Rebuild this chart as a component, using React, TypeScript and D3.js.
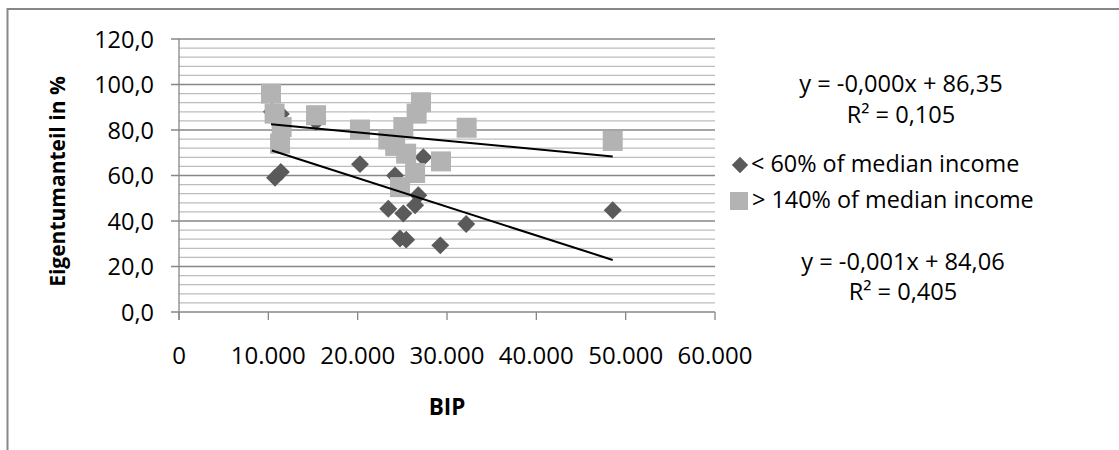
import React from 'react';
import * as d3 from 'd3';

const xTicks = [0, 10000, 20000, 30000, 40000, 50000, 60000];
const yTicks = [0, 20, 40, 60, 80, 100, 120];

const lowLabel = '< 60% of median income';
const highLabel = '> 140% of median income';

const lowX = [10400, 11400, 10750, 11400, 15340, 20260, 24180, 27350, 26790, 23430, 25110, 26430, 32150, 24740, 25430, 29250, 48550];
const lowY = [88, 87, 59, 61.5, 83.6, 65, 60, 68, 51.3, 45.4, 43.3, 46.9, 38.7, 32.3, 31.8, 29.3, 44.7];

const highX = [10300, 10700, 11490, 11310, 15340, 20260, 27090, 26600, 25110, 23430, 24200, 25430, 26430, 24740, 29330, 32200, 48550];
const highY = [96, 87.2, 81.3, 74, 86.5, 80.2, 92.2, 87.2, 81.3, 75.8, 73, 69.6, 61.1, 54.9, 66.2, 81, 75.2];

// trendline coefficients [slope, intercept]
const lowTrend = [-0.00126, 84.06];
const highTrend = [-0.00037, 86.35];

const lowEq = ['y = -0,001x + 84,06', 'R² = 0,405'];
const highEq = ['y = -0,000x + 86,35', 'R² = 0,105'];

const xTitle = 'BIP';
const yTitle = 'Eigentumanteil in %';

const locale = d3.formatLocale({ decimal: ',', thousands: '.', grouping: [3], currency: ['', '€'] });
const fmtX = locale.format(',');
const fmtY = locale.format('.1f');

const FONT = "'Open Sans', sans-serif";

export default function App() {
  const left = 179, right = 715, top = 39, bottom = 312;
  const x = d3.scaleLinear().domain([0, 60000]).range([left, right]);
  const y = d3.scaleLinear().domain([0, 120]).range([bottom, top]);
  const minor = d3.range(0, 121, 4);

  const trendPath = (xs: number[], c: number[]) => {
    const x0 = d3.min(xs) as number, x1 = d3.max(xs) as number;
    return d3.line<number>().x(v => x(v)).y(v => y(c[0] * v + c[1]))([x0, x1]) || '';
  };

  const diamond = d3.symbol().type(d3.symbolDiamond2).size(205)() || '';
  const S = 20;

  return (
    <svg width={1119} height={450} style={{ position: 'absolute', left: 0, top: 0 }} fontFamily={FONT}>
      <rect x={0} y={0} width={1119} height={450} fill="#fff" />
      <rect x={7.5} y={9} width={1300} height={600} fill="none" stroke="#878787" strokeWidth={2} />
      {minor.filter(v => v % 20 !== 0).map(v => (
        <line key={'m' + v} x1={left} x2={right} y1={y(v)} y2={y(v)} stroke="#bdbdbd" strokeWidth={1.3} />
      ))}
      {yTicks.map(v => (
        <line key={'g' + v} x1={left - 8} x2={right} y1={y(v)} y2={y(v)} stroke="#878787" strokeWidth={1.3} />
      ))}
      <line x1={left} x2={left} y1={top} y2={bottom + 8} stroke="#878787" strokeWidth={1.3} />
      {xTicks.map(v => (
        <line key={'xt' + v} x1={x(v)} x2={x(v)} y1={bottom} y2={bottom + 8} stroke="#878787" strokeWidth={1.3} />
      ))}
      {yTicks.map(v => (
        <text key={'yl' + v} x={154} y={y(v) + 8.5} textAnchor="end" fontSize={23.5} fill="#000">{fmtY(v)}</text>
      ))}
      {xTicks.map(v => (
        <text key={'xl' + v} x={x(v)} y={363.5} textAnchor="middle" fontSize={24} fill="#000">{fmtX(v)}</text>
      ))}
      <text x={447} y={415} textAnchor="middle" fontSize={22.5} fontWeight="bold">{xTitle}</text>
      <text transform={`translate(65,${(top + bottom) / 2 + 6}) rotate(-90)`} textAnchor="middle" fontSize={21} fontWeight="bold">{yTitle}</text>

      {lowX.map((v, i) => (
        <path key={'d' + i} d={diamond} transform={`translate(${x(v)},${y(lowY[i])})`} fill="#5a5a5a" />
      ))}
      {highX.map((v, i) => (
        <rect key={'s' + i} x={x(v) - S / 2} y={y(highY[i]) - S / 2} width={S} height={S} fill="#b3b3b3" />
      ))}
      <path d={trendPath(highX, highTrend)} stroke="#000" strokeWidth={2} fill="none" />
      <path d={trendPath(lowX, lowTrend)} stroke="#000" strokeWidth={2} fill="none" />

      <path d={d3.symbol().type(d3.symbolDiamond2).size(170)() || ''} transform="translate(740,165)" fill="#5a5a5a" />
      <text x={751} y={172} fontSize={23.4}>{lowLabel}</text>
      <rect x={730} y={192} width={18} height={18} fill="#b3b3b3" />
      <text x={752} y={208} fontSize={23.4}>{highLabel}</text>

      <text x={901} y={92} textAnchor="middle" fontSize={23.6}>{highEq[0]}</text>
      <text x={901} y={123} textAnchor="middle" fontSize={23.6}>{highEq[1]}</text>
      <text x={903} y={270} textAnchor="middle" fontSize={23.6}>{lowEq[0]}</text>
      <text x={903} y={300} textAnchor="middle" fontSize={23.6}>{lowEq[1]}</text>
    </svg>
  );
}
